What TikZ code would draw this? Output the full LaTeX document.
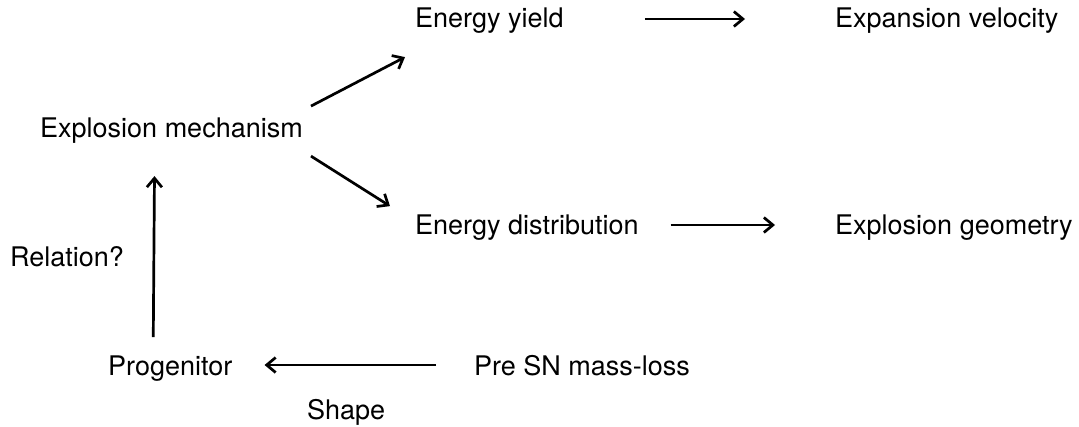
\documentclass[tikz,border=0pt]{standalone}
\usepackage{fontspec}
\setmainfont{TeX Gyre Heros}
\usetikzlibrary{arrows.meta}

\begin{document}
\begin{tikzpicture}[
  x=1pt, y=-1pt,
  lbl/.style={inner sep=0pt, anchor=base west, font=\fontsize{27}{32}\selectfont},
  arr/.style={-{Straight Barb[length=9pt, width=15pt]}, line width=2.7pt}
]
\useasboundingbox (0,0) rectangle (1079,426);

\node[lbl] (mech)  at (40,137)  {Explosion mechanism};
\node[lbl] (yield) at (415,27)  {Energy yield};
\node[lbl] (vel)   at (835,27)  {Expansion velocity};
\node[lbl] (dist)  at (415,234) {Energy distribution};
\node[lbl] (geom)  at (835,234) {Explosion geometry};
\node[lbl] (rel)   at (10,266)  {Relation?};
\node[lbl] (prog)  at (108,375) {Progenitor};
\node[lbl] (presn) at (474,375) {Pre SN mass-loss};
\node[lbl] (shape) at (307,419) {Shape};

\draw[arr] ([shift={(8,-24)}]mech.east) -- ([shift={(-10,37)}]yield.west);
\draw[arr] ([shift={(8,26)}]mech.east)  -- ([shift={(-25,-21)}]dist.west);
\draw[arr] ([shift={(81,-8)}]yield.base east) -- ([shift={(-90,-8)}]vel.base west);
\draw[arr] ([shift={(32,-9)}]dist.base east)  -- ([shift={(-60,-9)}]geom.base west);
\draw[arr] ([shift={(-38,-10)}]presn.base west) -- ([shift={(32,-10)}]prog.base east);
\draw[arr] ([shift={(-17,-18)}]prog.north) -- ([shift={(-17,33)}]mech.south);

\end{tikzpicture}
\end{document}
